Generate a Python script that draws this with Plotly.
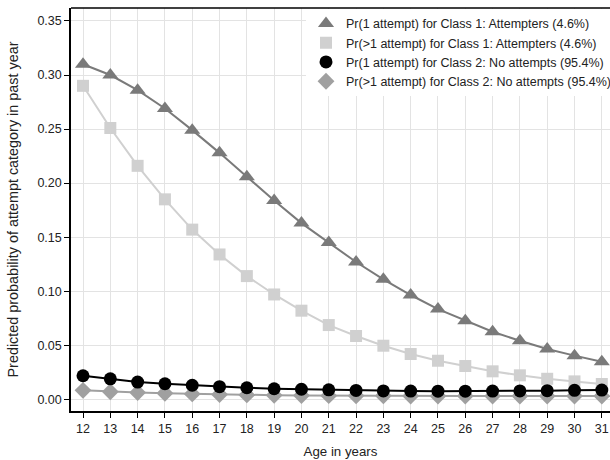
import plotly.graph_objects as go

ages = list(range(12, 32))

pr1_class1 = [0.310, 0.300, 0.286, 0.269, 0.249, 0.228, 0.206, 0.184, 0.163, 0.145,
              0.127, 0.111, 0.0965, 0.0835, 0.0727, 0.0625, 0.0542, 0.0465, 0.0404, 0.0348]
prgt1_class1 = [0.290, 0.251, 0.216, 0.185, 0.157, 0.134, 0.114, 0.097, 0.082, 0.0687,
                0.0586, 0.0496, 0.0419, 0.0357, 0.0308, 0.0259, 0.0222, 0.0190, 0.0166, 0.0142]
pr1_class2 = [0.0218, 0.0190, 0.0160, 0.0144, 0.0130, 0.0117, 0.0107, 0.0098, 0.0093, 0.0088,
              0.0082, 0.0078, 0.0076, 0.0075, 0.0075, 0.0076, 0.0078, 0.0080, 0.0083, 0.0086]
prgt1_class2 = [0.0083, 0.0070, 0.0062, 0.0056, 0.0050, 0.0045, 0.0041, 0.0038, 0.0036, 0.0034,
                0.0033, 0.0032, 0.0031, 0.0031, 0.0030, 0.0030, 0.0030, 0.0030, 0.0030, 0.0030]

names = [
    "Pr(1 attempt) for Class 1: Attempters (4.6%)",
    "Pr(>1 attempt) for Class 1: Attempters (4.6%)",
    "Pr(1 attempt) for Class 2: No attempts (95.4%)",
    "Pr(>1 attempt) for Class 2: No attempts (95.4%)",
]
series = [pr1_class1, prgt1_class1, pr1_class2, prgt1_class2]
colors = ["#7a7a7a", "#d0d0d0", "#000000", "#a0a0a0"]
symbols = ["triangle-up", "square", "circle", "diamond"]
sizes = [14, 12, 13, 13]

fig = go.Figure()
for i in [1, 0, 3, 2]:
    fig.add_trace(go.Scatter(
        x=ages, y=series[i], mode="lines+markers",
        line=dict(color=colors[i], width=2),
        marker=dict(symbol=symbols[i], size=sizes[i], color=colors[i], line=dict(width=0)),
        showlegend=False, hoverinfo="skip"))
for i in range(4):
    fig.add_trace(go.Scatter(
        x=[None], y=[None], mode="markers", name=names[i],
        marker=dict(symbol=symbols[i], size=sizes[i], color=colors[i], line=dict(width=0))))

fig.update_layout(
    width=610, height=460,
    margin=dict(l=71, r=0, t=8, b=49, autoexpand=False),
    plot_bgcolor="white", paper_bgcolor="white",
    font=dict(family="Liberation Sans, Arial, sans-serif", size=12.5, color="#222222"),
    legend=dict(x=0.436, y=0.998, xanchor="left", yanchor="top",
                bgcolor="white", borderwidth=0, font=dict(size=12.5),
                tracegroupgap=0, itemsizing="trace"),
    xaxis=dict(
        title=dict(text="Age in years", standoff=12, font=dict(size=13.3)),
        automargin=False,
        range=[11.56, 31.3], tickmode="array", tickvals=ages,
        ticks="outside", ticklen=5, tickcolor="black",
        showgrid=True, gridcolor="#e3e3e3", gridwidth=1.2,
        showline=True, linecolor="black", linewidth=1.5, mirror=False,
        zeroline=False),
    yaxis=dict(
        title=dict(text="Predicted probability of attempt category in past year",
                   standoff=15, font=dict(size=14.4)),
        automargin=False,
        range=[-0.0108, 0.362], tickmode="array",
        tickvals=[0, 0.05, 0.10, 0.15, 0.20, 0.25, 0.30, 0.35],
        tickformat=".2f",
        ticks="outside", ticklen=5, tickcolor="black",
        showgrid=True, gridcolor="#e3e3e3", gridwidth=1.2,
        showline=True, linecolor="black", linewidth=1.5,
        zeroline=False),
    shapes=[dict(type="line", xref="paper", yref="paper", x0=0, x1=1, y0=1, y1=1,
                 line=dict(color="black", width=1.5))],
)

# remove the page's default body margin so the 610x460 figure fills the window exactly
fig.write_html("out.html", config={"displayModeBar": False},
               post_script="document.body.style.margin='0';document.body.style.overflow='hidden';")
